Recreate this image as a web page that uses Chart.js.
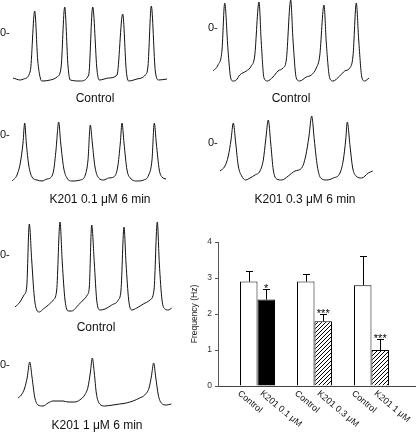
<!DOCTYPE html>
<html>
<head>
<meta charset="utf-8">
<script src="https://cdn.jsdelivr.net/npm/chart.js"></script>
<style>
body { margin: 0; background: #fff; }
#fig { position: relative; width: 416px; height: 434px; overflow: hidden; font-family: Arial, "Liberation Sans", sans-serif; color: #111; }
#fig canvas { position: absolute; }
.cap { position: absolute; font-size: 12px; line-height: 1; transform: translate(-50%, -50%); white-space: nowrap; }
</style>
</head>
<body>
<div id="fig">
  <canvas id="trA" width="183" height="95" style="left:0px;top:-2px"></canvas>
  <canvas id="trB" width="175" height="95" style="left:208px;top:-7px"></canvas>
  <canvas id="trC" width="182" height="95" style="left:0px;top:100px"></canvas>
  <canvas id="trD" width="182" height="95" style="left:208px;top:108px"></canvas>
  <canvas id="trE" width="185" height="95" style="left:0px;top:220px"></canvas>
  <canvas id="trF" width="188" height="95" style="left:0px;top:330px"></canvas>
  <canvas id="bars" width="236" height="202" style="left:180px;top:232px"></canvas>

  <div class="cap" style="left:95px;top:98px">Control</div>
  <div class="cap" style="left:291px;top:98px">Control</div>
  <div class="cap" style="left:100px;top:199px">K201 0.1 μM 6 min</div>
  <div class="cap" style="left:305px;top:199px">K201 0.3 μM 6 min</div>
  <div class="cap" style="left:96px;top:327px">Control</div>
  <div class="cap" style="left:97px;top:425px">K201 1 μM 6 min</div>
</div>

<script>
// membrane potential traces, time in ms, potential in mV
var tA = [0, 73, 107, 173, 217, 247, 273, 290, 373, 440, 480, 517, 550, 573, 673, 757, 797, 840, 863, 957, 1040, 1097, 1133, 1157, 1240, 1323, 1350, 1383, 1423, 1457, 1540];
var vA = [-45, -47, -46, -38, 22, -27, -45, -48, -47, -44, -35, 26, -33, -47, -48, -42, 26, -37, -47, -45, -42, 19, -38, -48, -46, -42, -33, 27, -38, -47, -46];

var tB = [0, 50, 90, 117, 150, 177, 200, 233, 267, 333, 383, 417, 460, 483, 510, 543, 600, 650, 700, 733, 777, 800, 833, 867, 933, 983, 1033, 1067, 1110, 1133, 1167, 1200, 1267, 1317, 1367, 1400, 1433, 1457, 1490, 1517, 1560];
var vB = [-43, -37, -22, 25, -22, -50, -53, -52, -47, -43, -38, -28, 26, -15, -50, -53, -49, -43, -40, -32, 28, -12, -50, -53, -49, -47, -40, -28, 23, -15, -50, -53, -48, -43, -40, -28, 25, -12, -50, -53, -50];

var tC = [0, 50, 83, 110, 127, 143, 167, 200, 250, 300, 350, 383, 417, 440, 467, 487, 517, 550, 600, 683, 733, 760, 783, 803, 830, 867, 917, 967, 1017, 1057, 1083, 1100, 1120, 1150, 1183, 1250, 1317, 1367, 1400, 1423, 1443, 1473, 1500, 1540];
var vC = [-46, -40, -28, -8, 12, -8, -30, -42, -45, -46, -44, -43, -35, -15, 13, -8, -33, -43, -46, -45, -40, -25, 10, -8, -32, -43, -45, -43, -42, -32, -8, 12, -8, -35, -43, -46, -45, -40, -25, 12, -8, -35, -42, -44];

var tD = [0, 50, 83, 110, 133, 157, 183, 217, 257, 300, 350, 400, 433, 457, 483, 507, 533, 567, 617, 683, 750, 817, 857, 890, 917, 943, 973, 1007, 1067, 1133, 1200, 1233, 1257, 1273, 1300, 1327, 1360, 1417, 1483, 1527];
var vD = [-28, -23, -13, 3, 20, 0, -23, -33, -37, -35, -32, -28, -17, 3, 23, 0, -27, -36, -37, -33, -28, -25, -13, 7, 27, 3, -23, -35, -37, -35, -30, -17, 3, 21, -3, -25, -33, -35, -30, -28];

var tE = [0, 50, 90, 117, 143, 167, 193, 217, 243, 283, 333, 383, 417, 450, 473, 500, 533, 567, 633, 683, 723, 743, 767, 793, 817, 850, 900, 967, 1033, 1060, 1090, 1110, 1137, 1167, 1217, 1283, 1350, 1390, 1423, 1443, 1470, 1500, 1533, 1567];
var vE = [-52, -47, -40, -32, 31, -5, -42, -55, -57, -54, -50, -45, -35, 33, -8, -45, -56, -56, -50, -45, -40, -32, 30, -8, -45, -55, -54, -50, -45, -35, 28, -8, -45, -55, -53, -49, -45, -35, 33, -8, -45, -54, -55, -53];

var tF = [0, 33, 67, 93, 117, 140, 167, 200, 250, 300, 350, 400, 450, 500, 567, 617, 667, 700, 723, 743, 763, 783, 817, 867, 950, 1017, 1083, 1150, 1217, 1267, 1310, 1333, 1357, 1377, 1403, 1433, 1483, 1533];
var vF = [-33, -30, -23, -12, 3, -12, -32, -40, -41, -38, -36, -36, -36, -37, -37, -35, -30, -22, -8, 7, -8, -28, -39, -41, -40, -39, -38, -36, -33, -30, -23, -12, 2, -12, -30, -38, -40, -39];

// frequency bar chart
var doses = ['0.1 μM', '0.3 μM', '1 μM'];
var controlHz = [2.9, 2.9, 2.8];
var controlSem = [0.3, 0.2, 0.8];
var k201Hz = [2.4, 1.8, 1.0];
var k201Sem = [0.3, 0.2, 0.3];
var stars = ['*', '***', '***'];
var yTicks = [0, 1, 2, 3, 4];

Chart.defaults.font.family = 'Arial, "Liberation Sans", sans-serif';
Chart.defaults.animation = false;

// "0-" mark at the zero potential of each trace
var zeroMark = {
    id: 'zeroMark',
    afterDraw: function (chart) {
        var ctx = chart.ctx;
        var y = chart.scales.y.getPixelForValue(0);
        ctx.save();
        ctx.fillStyle = '#111';
        ctx.font = '11px Arial, "Liberation Sans", sans-serif';
        ctx.textBaseline = 'middle';
        ctx.textAlign = 'left';
        ctx.fillText('0-', 0, y);
        ctx.restore();
    }
};

function makeTrace(id, t, v, padLeft) {
    var pts = t.map(function (x, i) { return { x: x, y: v[i] }; });
    new Chart(document.getElementById(id), {
        type: 'line',
        data: {
            datasets: [{
                data: pts,
                borderColor: '#111',
                borderWidth: 1,
                pointRadius: 0,
                cubicInterpolationMode: 'monotone',
                fill: false
            }]
        },
        options: {
            responsive: false,
            events: [],
            layout: { padding: { left: padLeft, right: 0, top: 0, bottom: 0 } },
            plugins: { legend: { display: false }, tooltip: { enabled: false } },
            scales: {
                x: { type: 'linear', min: 0, max: 1700, display: false },
                y: { min: -60, max: 35, display: false }
            }
        },
        plugins: [zeroMark]
    });
}

makeTrace('trA', tA, vA, 13);
makeTrace('trB', tB, vB, 5);
makeTrace('trC', tC, vC, 12);
makeTrace('trD', tD, vD, 12);
makeTrace('trE', tE, vE, 15);
makeTrace('trF', tF, vF, 18);

// diagonal hatch fill
function makeHatch() {
    var c = document.createElement('canvas');
    c.width = 4; c.height = 4;
    var g = c.getContext('2d');
    g.fillStyle = '#fff';
    g.fillRect(0, 0, 4, 4);
    g.strokeStyle = '#000';
    g.lineWidth = 1;
    g.beginPath();
    g.moveTo(0, 4); g.lineTo(4, 0);
    g.moveTo(-1, 1); g.lineTo(1, -1);
    g.moveTo(3, 5); g.lineTo(5, 3);
    g.stroke();
    return g.createPattern(c, 'repeat');
}
var hatch = makeHatch();

// error bars, stars and slanted bar labels
var barExtras = {
    id: 'barExtras',
    afterDatasetsDraw: function (chart) {
        var ctx = chart.ctx;
        var ys = chart.scales.y;
        var sems = [controlSem, k201Sem];
        var vals = [controlHz, k201Hz];
        ctx.save();
        ctx.strokeStyle = '#000';
        ctx.lineWidth = 1;
        for (var d = 0; d < 2; d++) {
            var meta = chart.getDatasetMeta(d);
            meta.data.forEach(function (bar, i) {
                var top = ys.getPixelForValue(vals[d][i] + sems[d][i]);
                var x = Math.round(bar.x) + 0.5;
                ctx.beginPath();
                ctx.moveTo(x, bar.y);
                ctx.lineTo(x, Math.round(top) + 0.5);
                ctx.moveTo(x - 3.5, Math.round(top) + 0.5);
                ctx.lineTo(x + 3.5, Math.round(top) + 0.5);
                ctx.stroke();
                if (d === 1) {
                    ctx.fillStyle = '#000';
                    ctx.font = '11px Arial, "Liberation Sans", sans-serif';
                    ctx.textAlign = 'center';
                    ctx.textBaseline = 'alphabetic';
                    ctx.fillText(stars[i], bar.x, top + 3);
                }
                var label = d === 0 ? 'Control' : 'K201 ' + doses[i];
                var off = d === 0 ? -7 : -2;
                ctx.save();
                ctx.translate(bar.x + off, chart.chartArea.bottom + 3);
                ctx.rotate(40 * Math.PI / 180);
                ctx.fillStyle = '#111';
                ctx.font = '9px Arial, "Liberation Sans", sans-serif';
                ctx.textAlign = 'left';
                ctx.textBaseline = 'top';
                ctx.fillText(label, 0, 0);
                ctx.restore();
            });
        }
        ctx.restore();
    }
};

new Chart(document.getElementById('bars'), {
    type: 'bar',
    data: {
        datasets: [{
            label: 'Control',
            data: controlHz.map(function (v, i) { return { x: i, y: v }; }),
            backgroundColor: '#fff',
            borderColor: '#000',
            borderWidth: 1,
            categoryPercentage: 0.614,
            barPercentage: 1.0
        }, {
            label: 'K201',
            data: k201Hz.map(function (v, i) { return { x: i, y: v }; }),
            backgroundColor: ['#000', hatch, hatch],
            borderColor: '#000',
            borderWidth: 1,
            categoryPercentage: 0.614,
            barPercentage: 1.0
        }]
    },
    options: {
        responsive: false,
        events: [],
        layout: { padding: { left: 0, right: 0, top: 10, bottom: 48 } },
        plugins: { legend: { display: false }, tooltip: { enabled: false } },
        scales: {
            x: {
                type: 'linear',
                min: -0.693,
                max: 2.781,
                offset: false,
                ticks: { display: false },
                grid: { display: false },
                border: { display: true, color: '#444', width: 1 },
                afterFit: function (s) { s.height = 0; }
            },
            y: {
                min: 0,
                max: 4,
                afterBuildTicks: function (s) { s.ticks = yTicks.map(function (v) { return { value: v }; }); },
                ticks: { color: '#333', font: { size: 8.5 }, padding: 3 },
                grid: { drawOnChartArea: false, drawTicks: true, tickLength: 3, color: '#555' },
                border: { display: true, color: '#555', width: 1 },
                title: { display: true, text: 'Frequency (Hz)', color: '#222', font: { size: 8.5 }, padding: { top: 10, bottom: 0 } },
                afterFit: function (s) { s.width = 38; }
            }
        }
    },
    plugins: [barExtras]
});
</script>
</body>
</html>
